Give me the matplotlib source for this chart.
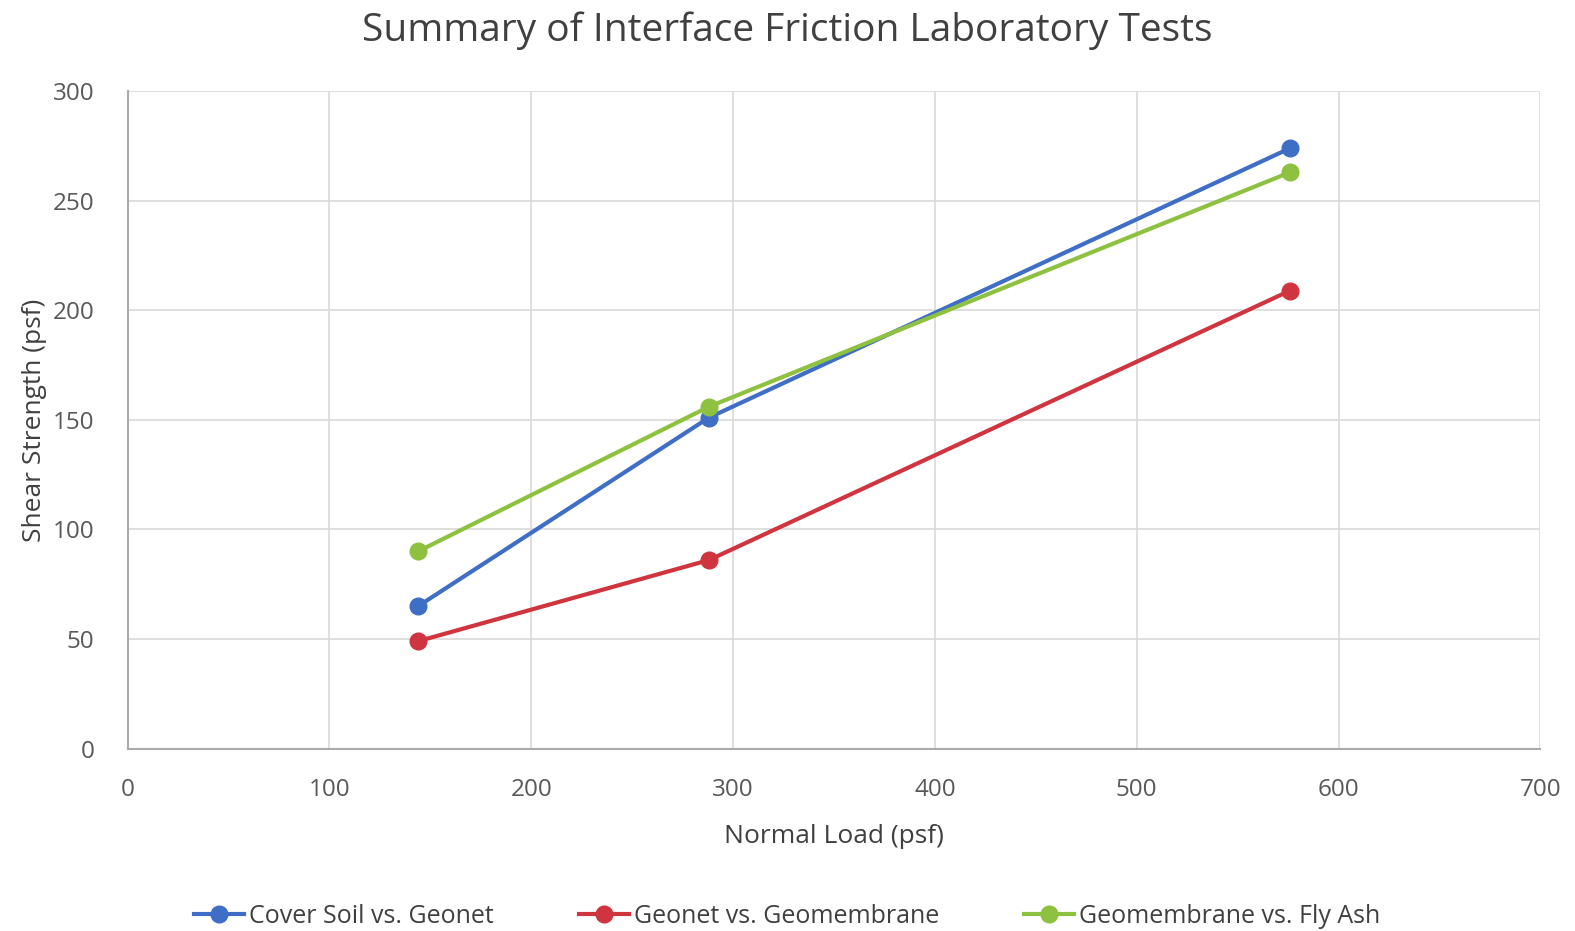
import matplotlib
matplotlib.use("Agg")
import matplotlib.pyplot as plt

# dados
normal_load = [144, 288, 576]
cover_soil = [65, 151, 274]
geonet_gm = [49, 86, 209]
gm_fly_ash = [90, 156, 263]

series = [
    ("Cover Soil vs. Geonet", cover_soil, "#3F6EC6"),
    ("Geonet vs. Geomembrane", geonet_gm, "#D0353F"),
    ("Geomembrane vs. Fly Ash", gm_fly_ash, "#8DC13F"),
]

plt.rcParams['font.family'] = ['Open Sans', 'DejaVu Sans']

fig = plt.figure(figsize=(15.75, 9.31), dpi=100)
ax = fig.add_axes([0.081, 0.196, 0.897, 0.706])

for label, vals, color in series:
    ax.plot(normal_load, vals, color=color, lw=3, marker='o', ms=12,
            label=label, zorder=3)

ax.set_xlim(0, 700)
ax.set_ylim(0, 300)
ax.set_xticks(range(0, 701, 100))
ax.set_yticks(range(0, 301, 50))
ax.grid(True, color='#D9D9D9', lw=1.2)
ax.set_axisbelow(True)
for s in ['top', 'right']:
    ax.spines[s].set_visible(False)
for s in ['left', 'bottom']:
    ax.spines[s].set_color('#ABABAB')
    ax.spines[s].set_linewidth(1.5)
ax.tick_params(length=0, labelsize=17.5, colors='#595959')
ax.tick_params(axis='x', pad=21)
ax.tick_params(axis='y', pad=24)

fig.text(0.5, 0.967, 'Summary of Interface Friction Laboratory Tests',
         fontsize=28, color='#404040', ha='center', va='center')
ax.set_xlabel('Normal Load (psf)', fontsize=19, color='#404040', labelpad=16)
ax.set_ylabel('Shear Strength (psf)', fontsize=19, color='#404040', labelpad=4)

fig.legend(loc='lower center', ncol=3, frameon=False, fontsize=18,
           bbox_to_anchor=(0.5, -0.022), columnspacing=3.4, handlelength=2.0,
           handletextpad=0.2, labelcolor='#404040')

fig.savefig('out.png', dpi=100)
